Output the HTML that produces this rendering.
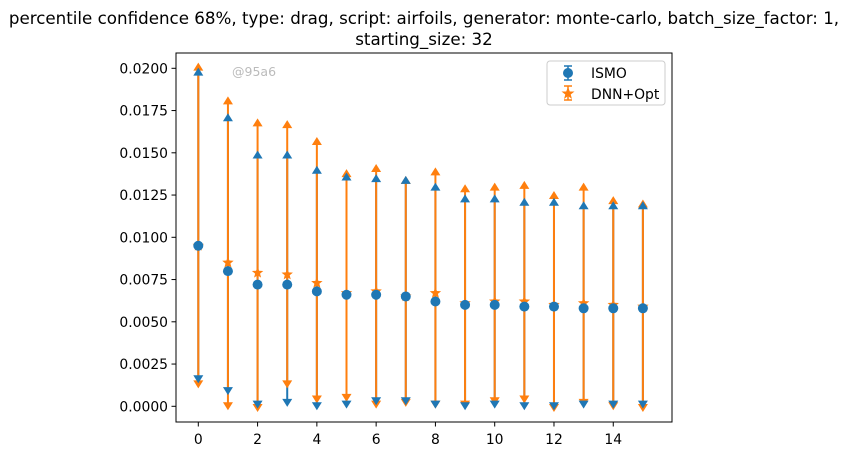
<!DOCTYPE html>
<html><head><meta charset="utf-8"><style>
body{margin:0;background:#fff;}
svg{display:block;font-family:"DejaVu Sans","Liberation Sans",sans-serif;}
</style></head><body>
<svg id="chart" width="848" height="456" viewBox="0 0 848 456" xmlns="http://www.w3.org/2000/svg">
<text x="424" y="24" font-size="16.7" text-anchor="middle">percentile confidence 68%, type: drag, script: airfoils, generator: monte-carlo, batch_size_factor: 1,</text>
<text x="424" y="45" font-size="16.7" text-anchor="middle">starting_size: 32</text>
<g id="plot"></g>
<rect x="176" y="53" width="496" height="369" fill="none" stroke="#000" stroke-width="1"/>
<text x="232" y="76" font-size="12.5" fill="#bbb">@95a6</text>
<g>
<rect x="547" y="61" width="118" height="44" rx="3" fill="#fff" stroke="#ccc"/>
<g>
<line x1="568" y1="66" x2="568" y2="80" stroke="#1f77b4" stroke-width="1.5"/>
<line x1="564" y1="66" x2="572" y2="66" stroke="#1f77b4" stroke-width="1.5"/>
<line x1="564" y1="80" x2="572" y2="80" stroke="#1f77b4" stroke-width="1.5"/>
<circle cx="568" cy="73" r="5" fill="#1f77b4"/>
<text x="591" y="78" font-size="13.9">ISMO</text></g>
<g>
<line x1="568" y1="86" x2="568" y2="100" stroke="#ff7f0e" stroke-width="1.5"/>
<line x1="564" y1="86" x2="572" y2="86" stroke="#ff7f0e" stroke-width="1.5"/>
<line x1="564" y1="100" x2="572" y2="100" stroke="#ff7f0e" stroke-width="1.5"/>
<path d="M568,87 L569.8,91.5 L574.5,91.5 L570.7,94.5 L572,99 L568,96 L564,99 L565.3,94.5 L561.5,91.5 L566.2,91.5Z" fill="#ff7f0e"/>
<text x="591" y="99" font-size="13.9">DNN+Opt</text></g>
</g>
</svg>
<script>
const xs = [0,1,2,3,4,5,6,7,8,9,10,11,12,13,14,15];
const ismoMean = [0.0095,0.0080,0.0072,0.0072,0.0068,0.0066,0.0066,0.0065,0.0062,0.0060,0.0060,0.0059,0.0059,0.0058,0.0058,0.0058];
const ismoUpper = [0.0198,0.0171,0.0149,0.0149,0.0140,0.0136,0.0135,0.0134,0.0130,0.0123,0.0123,0.0121,0.0121,0.0119,0.0119,0.0119];
const ismoLower = [0.0016,0.0009,0.0001,0.0002,0.0000,0.0001,0.0003,0.0003,0.0001,0.0000,0.0001,0.0000,0.0000,0.0001,0.0001,0.0001];
const dnnMean = [0.0095,0.0085,0.0079,0.0078,0.0073,0.0067,0.0068,0.0065,0.0067,0.0061,0.0062,0.0062,0.0060,0.0061,0.0060,0.0059];
const dnnUpper = [0.0201,0.0181,0.0168,0.0167,0.0157,0.0138,0.0141,0.0134,0.0139,0.0129,0.0130,0.0131,0.0125,0.0130,0.0122,0.0120];
const dnnLower = [0.0013,0.0000,-0.0001,0.0013,0.0004,0.0005,0.0001,0.0002,0.0001,0.0001,0.0003,0.0004,-0.0001,0.0002,0.0000,-0.0001];
const xTicks = [0,2,4,6,8,10,12,14];
const yTicks = [0,0.0025,0.005,0.0075,0.01,0.0125,0.015,0.0175,0.02];

const NS = "http://www.w3.org/2000/svg";
const g = document.getElementById('plot');
function X(v){return 198.3 + v*29.64;}
function Y(v){return 406.3 - v*16900;}
function mk(tag, attrs, parent){
  const e = document.createElementNS(NS, tag);
  for (const k in attrs) e.setAttribute(k, attrs[k]);
  (parent||g).appendChild(e); return e;
}
xTicks.forEach(t=>{
  const tk = mk('line',{x1:X(t),x2:X(t),y1:422,y2:426.5,stroke:'#000'});
  
  
  const tx = mk('text',{x:X(t),y:444,'font-size':13.9,'text-anchor':'middle'});
  
  
  tx.textContent = t;
});
yTicks.forEach(t=>{
  const tk = mk('line',{x1:171.5,x2:176,y1:Y(t),y2:Y(t),stroke:'#000'});
  
  
  const tx = mk('text',{x:168,y:Y(t)+5,'font-size':13.9,'text-anchor':'end'});
  
  
  tx.textContent = t.toFixed(4);
});
function tri(x,y,up,color,name){
  const d = up ? `M${x-5},${y+4} L${x+5},${y+4} L${x},${y-4}Z` : `M${x-5},${y-4} L${x+5},${y-4} L${x},${y+4}Z`;
  const p = mk('path',{d:d,fill:color});
  
  
}
function star(x,y,color){
  let d='';
  for(let i=0;i<10;i++){const r=i%2?2.6:6;const a=-Math.PI/2+i*Math.PI/5;d+=(i?'L':'M')+(x+r*Math.cos(a)).toFixed(2)+','+(y+r*Math.sin(a)).toFixed(2);}
  const p = mk('path',{d:d+'Z',fill:color});
  
  
}
const B='#1f77b4', O='#ff7f0e';
xs.forEach((x,i)=>{
  const l = mk('line',{x1:X(x),x2:X(x),y1:Y(ismoUpper[i]),y2:Y(ismoLower[i]),stroke:B,'stroke-width':2});
  
  
});
xs.forEach((x,i)=>{
  const l = mk('line',{x1:X(x),x2:X(x),y1:Y(dnnUpper[i]),y2:Y(dnnLower[i]),stroke:O,'stroke-width':2});
  
  
});
xs.forEach((x,i)=>{
  tri(X(x),Y(dnnUpper[i]),true,O,'dnn-upper-cap');
  tri(X(x),Y(dnnLower[i]),false,O,'dnn-lower-cap');
  tri(X(x),Y(ismoUpper[i]),true,B,'ismo-upper-cap');
  tri(X(x),Y(ismoLower[i]),false,B,'ismo-lower-cap');
});
xs.forEach((x,i)=>{
  star(X(x),Y(dnnMean[i]),O);
  const c = mk('circle',{cx:X(x),cy:Y(ismoMean[i]),r:5,fill:B});
  
  
});
</script>
</body></html>
